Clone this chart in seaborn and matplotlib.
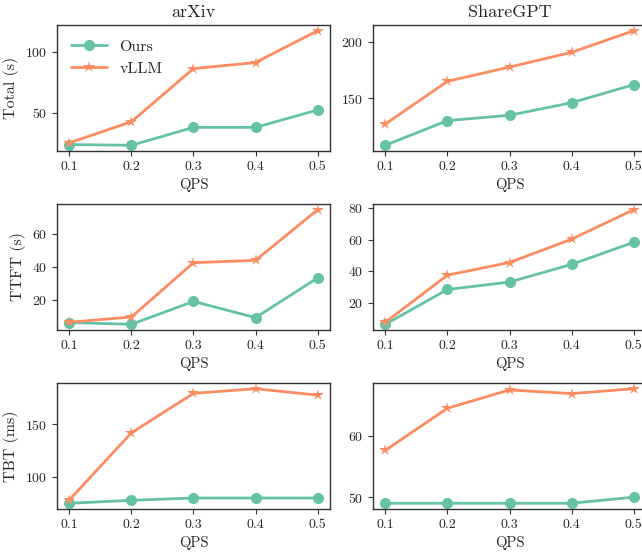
import matplotlib
matplotlib.use("Agg")
import matplotlib.pyplot as plt
import seaborn as sns
import pandas as pd

qps = [0.1, 0.2, 0.3, 0.4, 0.5]
datasets = ["arXiv", "ShareGPT"]
metrics = ["Total (s)", "TTFT (s)", "TBT (ms)"]

arxiv_total_ours = [23.9, 23.3, 38.1, 38.1, 52.5]
arxiv_total_vllm = [25.3, 42.8, 86.7, 91.7, 118.0]
share_total_ours = [108.5, 130.3, 135.0, 146.1, 162.0]
share_total_vllm = [127.3, 165.0, 177.6, 190.6, 209.7]

arxiv_ttft_ours = [6.4, 5.4, 19.2, 9.4, 33.4]
arxiv_ttft_vllm = [6.6, 9.8, 42.6, 44.0, 74.6]
share_ttft_ours = [6.2, 28.3, 33.0, 44.2, 58.2]
share_ttft_vllm = [7.5, 37.4, 45.4, 60.2, 78.9]

arxiv_tbt_ours = [75.0, 77.8, 80.0, 80.0, 80.0]
arxiv_tbt_vllm = [78.2, 141.8, 179.1, 183.5, 177.4]
share_tbt_ours = [49.0, 49.0, 49.0, 49.0, 50.0]
share_tbt_vllm = [57.7, 64.6, 67.6, 67.0, 67.8]

series = {
    (0, 0): (arxiv_total_ours, arxiv_total_vllm),
    (0, 1): (share_total_ours, share_total_vllm),
    (1, 0): (arxiv_ttft_ours, arxiv_ttft_vllm),
    (1, 1): (share_ttft_ours, share_ttft_vllm),
    (2, 0): (arxiv_tbt_ours, arxiv_tbt_vllm),
    (2, 1): (share_tbt_ours, share_tbt_vllm),
}

sns.set_style("white")
plt.rcParams["font.family"] = ["cmr10", "DejaVu Serif"]
plt.rcParams["mathtext.fontset"] = "cm"
plt.rcParams["axes.formatter.use_mathtext"] = True
plt.rcParams["axes.unicode_minus"] = False

pal = sns.color_palette("Set2")
c_ours, c_vllm = pal[0], pal[1]

W, H = 642, 552
fig = plt.figure(figsize=(W / 100, H / 100), dpi=100)
lefts = [57 / W, 373 / W]
width = 273 / W
tops = [25, 204, 383]
height = 126

for (r, c), (ours, vllm) in series.items():
    y0 = (H - (tops[r] + height)) / H
    ax = fig.add_axes([lefts[c], y0, width, height / H])
    df = pd.DataFrame({"QPS": qps + qps, "val": ours + vllm,
                       "method": ["Ours"] * 5 + ["vLLM"] * 5})
    sns.lineplot(data=df[df.method == "Ours"], x="QPS", y="val", ax=ax,
                 color=c_ours, marker="o", markersize=8, linewidth=2,
                 markeredgewidth=0, label="Ours")
    sns.lineplot(data=df[df.method == "vLLM"], x="QPS", y="val", ax=ax,
                 color=c_vllm, marker="*", markersize=9, linewidth=2,
                 markeredgewidth=0, label="vLLM")
    ax.set_xticks(qps)
    ax.set_xticklabels([f"{q:.1f}" for q in qps])
    ax.tick_params(axis="both", labelsize=10, length=3.5, width=0.8,
                   bottom=True, left=True, direction="out", color="#333333")
    ax.set_xlabel("QPS", fontsize=10.5)
    if c == 0:
        ax.set_ylabel(metrics[r], fontsize=11.5)
    else:
        ax.set_ylabel("")
    if r == 0:
        ax.set_title(datasets[c], fontsize=13)
    for s in ax.spines.values():
        s.set_color("#333333")
        s.set_linewidth(1.0)
    if (r, c) == (0, 0):
        ax.legend(loc="upper left", frameon=False, fontsize=11.5,
                  handlelength=2.2)
    else:
        ax.get_legend().remove()

fig.savefig("out.png", dpi=100)
